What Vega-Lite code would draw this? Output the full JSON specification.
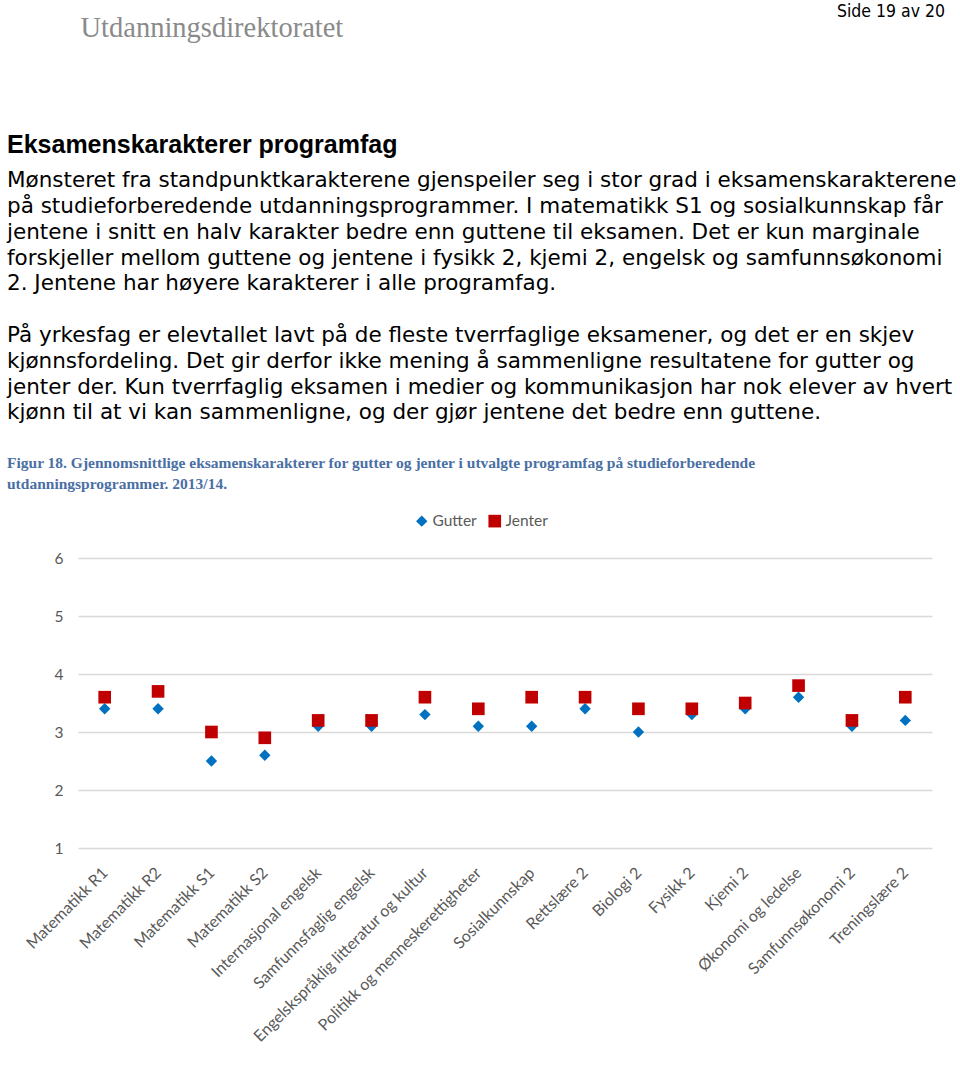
{
  "$schema": "https://vega.github.io/schema/vega-lite/v6.json",
  "padding": {"left": 7, "top": 2, "right": 0, "bottom": 0},
  "background": "white",
  "config": {"view": {"stroke": null}, "concat": {"spacing": 0}},
  "vconcat": [
    {
      "width": 867,
      "height": 91,
      "data": {"values": [{"v": 0}]},
      "title": {"text": "Side 19 av 20", "anchor": "end", "font": "DejaVu Sans Condensed", "fontSize": 17.5, "fontWeight": "normal", "color": "#000000", "offset": -7},
      "mark": {"type": "rule", "opacity": 0},
      "encoding": {
        "x": {"field": "v", "type": "quantitative", "axis": {"orient": "top", "title": "Utdanningsdirektoratet", "titleAnchor": "start", "titleFont": "Liberation Serif", "titleFontSize": 28.5, "titleFontWeight": "normal", "titleColor": "#8a8a8a", "labels": false, "ticks": false, "domain": false, "grid": false, "titlePadding": 0, "titleX": 2}}
      }
    },
    {
      "width": 867,
      "height": 31,
      "data": {"values": [{"v": 0}]},
      "title": {
        "text": "Eksamenskarakterer programfag",
        "subtitle": [
          "Mønsteret fra standpunktkarakterene gjenspeiler seg i stor grad i eksamenskarakterene",
          "på studieforberedende utdanningsprogrammer. I matematikk S1 og sosialkunnskap får",
          "jentene i snitt en halv karakter bedre enn guttene til eksamen. Det er kun marginale",
          "forskjeller mellom guttene og jentene i fysikk 2, kjemi 2, engelsk og samfunnsøkonomi",
          "2. Jentene har høyere karakterer i alle programfag.",
          "\u2800",
          "På yrkesfag er elevtallet lavt på de fleste tverrfaglige eksamener, og det er en skjev",
          "kjønnsfordeling. Det gir derfor ikke mening å sammenligne resultatene for gutter og",
          "jenter der. Kun tverrfaglig eksamen i medier og kommunikasjon har nok elever av hvert",
          "kjønn til at vi kan sammenligne, og der gjør jentene det bedre enn guttene."
        ],
        "anchor": "start",
        "dx": -71,
        "font": "Liberation Sans",
        "fontSize": 25,
        "fontWeight": "bold",
        "color": "#000000",
        "subtitleFont": "DejaVu Sans",
        "subtitleFontSize": 21.5,
        "subtitleColor": "#000000",
        "subtitleLineHeight": 25.8,
        "subtitlePadding": 12,
        "offset": 0
      },
      "mark": {"type": "rule", "opacity": 0},
      "encoding": {"x": {"field": "v", "type": "quantitative", "axis": null}}
    },
    {
      "width": 854,
      "height": 290,
      "title": {
        "text": ["Figur 18. Gjennomsnittlige eksamenskarakterer for gutter og jenter i utvalgte programfag på studieforberedende", "utdanningsprogrammer. 2013/14."],
        "anchor": "start",
        "frame": "bounds",
        "font": "Liberation Serif",
        "fontSize": 15.5,
        "fontWeight": "bold",
        "color": "#4a6fa5",
        "lineHeight": 21,
        "offset": 59
      },
      "data": {"values": [
        {"fag": "Matematikk R1", "kjonn": "Gutter", "karakter": 3.4},
        {"fag": "Matematikk R2", "kjonn": "Gutter", "karakter": 3.4},
        {"fag": "Matematikk S1", "kjonn": "Gutter", "karakter": 2.5},
        {"fag": "Matematikk S2", "kjonn": "Gutter", "karakter": 2.6},
        {"fag": "Internasjonal engelsk", "kjonn": "Gutter", "karakter": 3.1},
        {"fag": "Samfunnsfaglig engelsk", "kjonn": "Gutter", "karakter": 3.1},
        {"fag": "Engelskspråklig litteratur og kultur", "kjonn": "Gutter", "karakter": 3.3},
        {"fag": "Politikk og menneskerettigheter", "kjonn": "Gutter", "karakter": 3.1},
        {"fag": "Sosialkunnskap", "kjonn": "Gutter", "karakter": 3.1},
        {"fag": "Rettslære 2", "kjonn": "Gutter", "karakter": 3.4},
        {"fag": "Biologi 2", "kjonn": "Gutter", "karakter": 3.0},
        {"fag": "Fysikk 2", "kjonn": "Gutter", "karakter": 3.3},
        {"fag": "Kjemi 2", "kjonn": "Gutter", "karakter": 3.4},
        {"fag": "Økonomi og ledelse", "kjonn": "Gutter", "karakter": 3.6},
        {"fag": "Samfunnsøkonomi 2", "kjonn": "Gutter", "karakter": 3.1},
        {"fag": "Treningslære 2", "kjonn": "Gutter", "karakter": 3.2},
        {"fag": "Matematikk R1", "kjonn": "Jenter", "karakter": 3.6},
        {"fag": "Matematikk R2", "kjonn": "Jenter", "karakter": 3.7},
        {"fag": "Matematikk S1", "kjonn": "Jenter", "karakter": 3.0},
        {"fag": "Matematikk S2", "kjonn": "Jenter", "karakter": 2.9},
        {"fag": "Internasjonal engelsk", "kjonn": "Jenter", "karakter": 3.2},
        {"fag": "Samfunnsfaglig engelsk", "kjonn": "Jenter", "karakter": 3.2},
        {"fag": "Engelskspråklig litteratur og kultur", "kjonn": "Jenter", "karakter": 3.6},
        {"fag": "Politikk og menneskerettigheter", "kjonn": "Jenter", "karakter": 3.4},
        {"fag": "Sosialkunnskap", "kjonn": "Jenter", "karakter": 3.6},
        {"fag": "Rettslære 2", "kjonn": "Jenter", "karakter": 3.6},
        {"fag": "Biologi 2", "kjonn": "Jenter", "karakter": 3.4},
        {"fag": "Fysikk 2", "kjonn": "Jenter", "karakter": 3.4},
        {"fag": "Kjemi 2", "kjonn": "Jenter", "karakter": 3.5},
        {"fag": "Økonomi og ledelse", "kjonn": "Jenter", "karakter": 3.8},
        {"fag": "Samfunnsøkonomi 2", "kjonn": "Jenter", "karakter": 3.2},
        {"fag": "Treningslære 2", "kjonn": "Jenter", "karakter": 3.6}
      ]},
      "mark": {"type": "point", "filled": true, "opacity": 1, "strokeWidth": 0},
      "encoding": {
        "x": {
          "field": "fag", "type": "nominal", "sort": null,
          "scale": {"type": "point", "padding": 0.5},
          "axis": {"title": null, "labelAngle": -45, "labelAlign": "right", "labelBaseline": "middle", "labelPadding": 22, "labelFont": "Lato", "labelFontSize": 16, "labelColor": "#595959", "domain": false, "ticks": false, "grid": false, "labelOverlap": false, "labelLimit": 400}
        },
        "y": {
          "field": "karakter", "type": "quantitative",
          "scale": {"domain": [1, 6], "nice": false, "zero": false},
          "axis": {"title": null, "values": [1, 2, 3, 4, 5, 6], "labelFont": "Lato", "labelFontSize": 15.5, "labelColor": "#595959", "labelPadding": 15, "domain": false, "ticks": false, "grid": true, "gridColor": "#d9d9d9", "gridWidth": 1.3, "minExtent": 71}
        },
        "color": {"field": "kjonn", "type": "nominal", "sort": null, "scale": {"domain": ["Gutter", "Jenter"], "range": ["#0070c0", "#c00000"]},
          "legend": {"title": null, "orient": "none", "legendX": 336, "legendY": 471, "direction": "horizontal", "labelFont": "Lato", "labelFontSize": 15.5, "labelColor": "#595959", "symbolSize": 110, "columnPadding": 10, "labelOffset": 3}},
        "shape": {"field": "kjonn", "type": "nominal", "sort": null, "scale": {"domain": ["Gutter", "Jenter"], "range": ["diamond", "square"]}},
        "size": {"field": "kjonn", "type": "nominal", "sort": null, "scale": {"domain": ["Gutter", "Jenter"], "range": [130, 160]}, "legend": null}
      }
    }
  ]
}
